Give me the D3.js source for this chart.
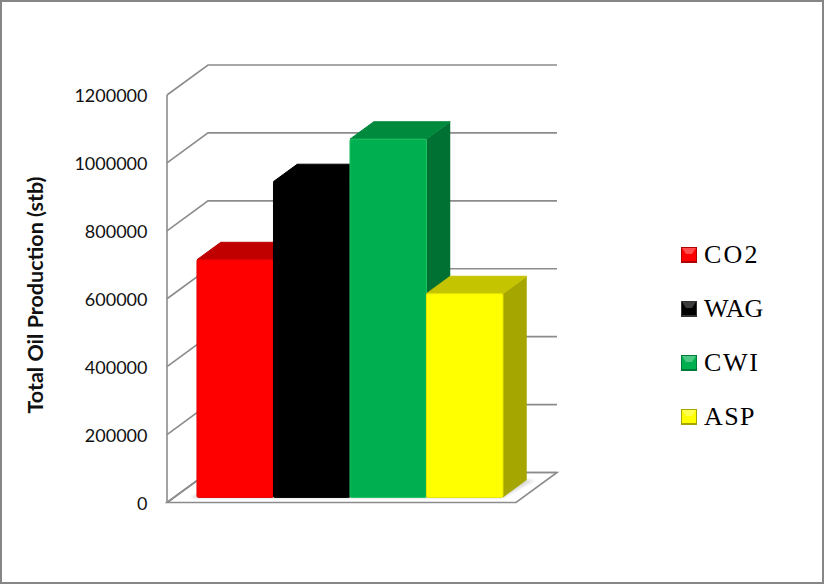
<!DOCTYPE html>
<html>
<head>
<meta charset="utf-8">
<script src="https://cdn.jsdelivr.net/npm/d3@7"></script>
<style>
  html, body { margin: 0; padding: 0; background: #fff; }
  svg { display: block; }
</style>
</head>
<body>
<svg id="chart"></svg>
<script>
const categories = ["CO2", "WAG", "CWI", "ASP"]
const values = [700000, 930000, 1055000, 600000]
const tickValues = [0, 200000, 400000, 600000, 800000, 1000000, 1200000]
const frontColors = ["#FF0000", "#000000", "#00B050", "#FFFF00"]
const topColors = ["#C00000", "#000000", "#008A3E", "#C4C400"]
const sideColors = ["#A80000", "#000000", "#007033", "#A6A600"]
const edgeColors = ["#E00000", "#000000", "#1FC060", "#E6E600"]
const legendBorders = ["#B00000", "#333333", "#007A38", "#A6A600"]
const legendSpacing = [2.2, 0, 1.7, 1.4]

const width = 824
const height = 584
const gridColor = "#8C8C8C"

const svg = d3.select("#chart").attr("width", width).attr("height", height)

svg.append("rect")
    .attr("x", 1).attr("y", 1)
    .attr("width", width - 2).attr("height", height - 2)
    .attr("fill", "#fff")
    .attr("stroke", "#868686")
    .attr("stroke-width", 2)

// front plane of the 3d box, depth goes 0 (front) to 1 (back wall)
const yScale = d3.scaleLinear().domain([0, 1200000]).range([502.5, 95])
const depthX = 41
const depthY = -30
const project = (x, y, d) => [x + depthX * d, y + depthY * d]
const poly = (pts) => pts.map((p) => p.join(",")).join(" ")

const xScale = d3.scaleBand().domain(categories).range([190, 496])
const barNear = 0.17
const barFar = 0.75

const walls = svg.append("g").attr("fill", "none").attr("stroke", gridColor).attr("stroke-width", 1.6)

tickValues.forEach((t) => {
    const a = project(167, yScale(t), 0)
    const b = project(167, yScale(t), 1)
    const c = project(516, yScale(t), 1)
    walls.append("polyline").attr("points", poly([a, b, c]))
})

walls.append("line")
    .attr("x1", 167).attr("x2", 167)
    .attr("y1", yScale(0)).attr("y2", yScale(1200000))

walls.append("polygon")
    .attr("points", poly([
        project(167, yScale(0), 0),
        project(516, yScale(0), 0),
        project(516, yScale(0), 1),
        project(167, yScale(0), 1)
    ]))

// soft shadow on the floor
svg.append("polygon")
    .attr("points", poly([
        project(xScale(categories[0]) - 6, yScale(0), barNear - 0.02),
        project(xScale(categories[3]) + xScale.bandwidth(), yScale(0), barNear - 0.02),
        project(xScale(categories[3]) + xScale.bandwidth() + 8, yScale(0), barFar),
        project(xScale(categories[0]), yScale(0), barFar)
    ]))
    .attr("fill", "#D9D9D9")
    .style("filter", "blur(1.5px)")

const bars = svg.append("g")
categories.forEach((c, i) => {
    const x0 = xScale(c)
    const x1 = x0 + xScale.bandwidth()
    const y0 = yScale(0)
    const y1 = yScale(values[i])
    const g = bars.append("g")

    g.append("polygon")
        .attr("points", poly([project(x1, y1, barNear), project(x1, y1, barFar), project(x1, y0, barFar), project(x1, y0, barNear)]))
        .attr("fill", sideColors[i])
    g.append("polygon")
        .attr("points", poly([project(x0, y1, barNear), project(x0, y1, barFar), project(x1, y1, barFar), project(x1, y1, barNear)]))
        .attr("fill", topColors[i])
        .attr("stroke", topColors[i])
        .attr("stroke-width", 1)
        .attr("stroke-linejoin", "round")
    const f0 = project(x0, y1, barNear)
    const f1 = project(x1, y0, barNear)
    g.append("rect")
        .attr("x", f0[0]).attr("y", f0[1])
        .attr("width", f1[0] - f0[0]).attr("height", f1[1] - f0[1])
        .attr("rx", 1.5)
        .attr("fill", frontColors[i])
        .attr("stroke", edgeColors[i])
        .attr("stroke-width", 1)
})

const yAxis = d3.axisLeft(yScale)
    .tickValues(tickValues)
    .tickFormat(d3.format("d"))
    .tickSize(0)
    .tickPadding(0)

const axisG = svg.append("g")
    .attr("transform", "translate(147.5,1)")
    .call(yAxis)
axisG.select(".domain").remove()
axisG.selectAll("text")
    .attr("font-family", "Lato, sans-serif")
    .attr("font-size", 18)
    .attr("fill", "#111")

svg.append("text")
    .attr("transform", "translate(43,295) rotate(-90)")
    .attr("text-anchor", "middle")
    .attr("font-family", "Lato, sans-serif")
    .attr("font-weight", 700)
    .attr("font-size", 21.5)
    .attr("fill", "#111")
    .text("Total Oil Production (stb)")

const legendY = d3.scalePoint().domain(categories).range([255, 417])
const legend = svg.append("g")
categories.forEach((c, i) => {
    const cy = legendY(c)
    const s = 8
    const x = 689
    const g = legend.append("g")
    g.append("rect")
        .attr("x", x - s).attr("y", cy - s)
        .attr("width", 2 * s).attr("height", 2 * s)
        .attr("fill", legendBorders[i])
    g.append("rect")
        .attr("x", x - s + 1).attr("y", cy - s + 1)
        .attr("width", 2 * s - 2).attr("height", 2 * s - 3)
        .attr("fill", frontColors[i])
    g.append("polygon")
        .attr("points", poly([[x - s + 1, cy - s + 1], [x + s - 1, cy - s + 1], [x + 3, cy - 1], [x - 3, cy - 1]]))
        .attr("fill", i === 1 ? "#555" : "#fff")
        .attr("opacity", i === 1 ? 0.7 : 0.3)
    g.append("text")
        .attr("x", 704)
        .attr("y", cy + 8)
        .attr("font-family", "'Liberation Serif', serif")
        .attr("font-size", 26)
        .attr("letter-spacing", legendSpacing[i])
        .attr("fill", "#000")
        .text(c)
})
</script>
</body>
</html>
